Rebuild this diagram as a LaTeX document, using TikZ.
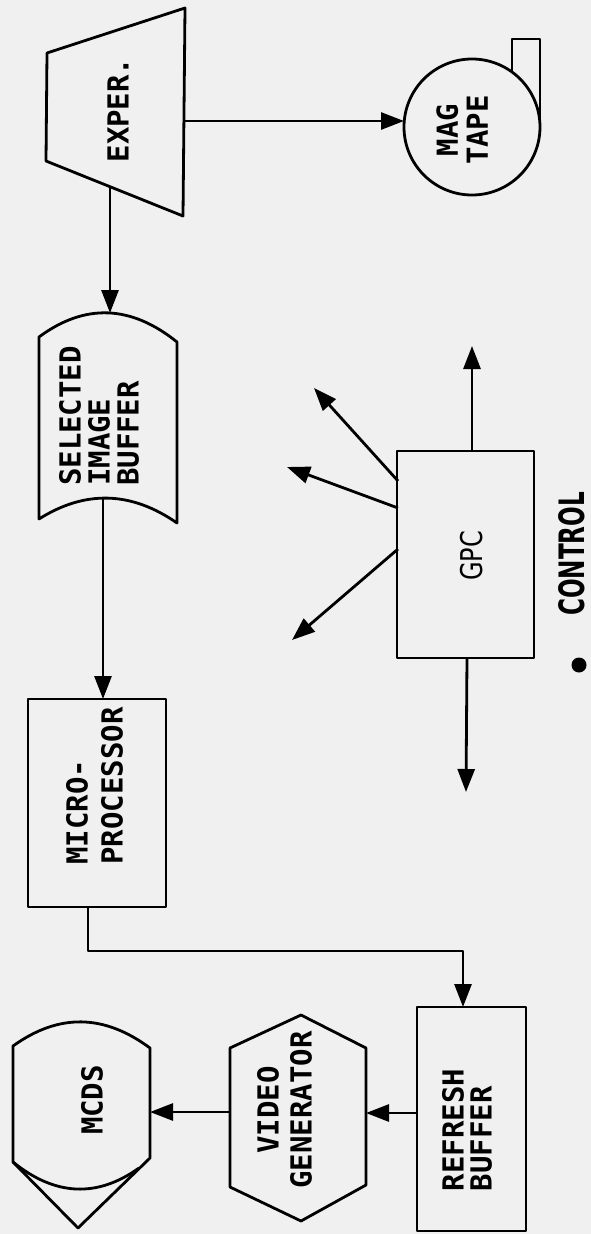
\documentclass[tikz,border=0pt]{standalone}
\usepackage{fontspec}
\setmonofont{DejaVu Sans Mono}
\newfontfamily\gpcfont[FakeStretch=0.8]{DejaVu Sans}
\newfontfamily\ctlfont[FakeStretch=0.66]{DejaVu Sans}
\usetikzlibrary{arrows.meta}
\begin{document}
\begin{tikzpicture}[x=1pt,y=-1pt,line width=2.8pt,line join=round,
  conn/.style={-{Triangle[length=23pt,width=17pt]}},
  lbl/.style={rotate=90,inner sep=0pt,font=\ttfamily\bfseries\fontsize{29}{#1}\selectfont},
  shp/.style={draw=black,line width=2.8pt}]
\useasboundingbox (0,0) rectangle (591,1234);
\fill[black!6] (0,0) rectangle (591,1234);

% EXPER.
\draw[shp] (47,53) -- (185,8) -- (183,216) -- (46,161) -- cycle;
\node[lbl=30] (exper) at (118,110) {EXPER.};
\coordinate (e1) at (184,121);
\coordinate (e2) at (110,187);

% MAG TAPE
\draw[shp] (472,127) circle[radius=68];
\draw[shp] (540,127) -- (540,39) -- (512,39) -- (512,72);
\node[lbl=30,align=center] (mag) at (462,130) {MAG\\TAPE};
\coordinate (m1) at (404,121);

% SELECTED IMAGE BUFFER
\draw[shp] (39,337) .. controls (85,303) and (131,305) .. (177,342)
  -- (177,523) .. controls (131,491) and (85,490) .. (39,519) -- cycle;
\node[lbl=29,align=left] (sib) at (99,416) {SELECTED\\IMAGE\\BUFFER};
\coordinate (s1) at (110,313);
\coordinate (s2) at (103,499);

% MICRO-PROCESSOR
\draw[shp] (28,699) rectangle (166,907);
\node[lbl=35,align=left] (micro) at (94.5,786) {MICRO-\\PROCESSOR};
\coordinate (p1) at (103,699);
\coordinate (p2) at (88,907);
\coordinate (b1) at (88,951);
\coordinate (b2) at (463,951);

% REFRESH BUFFER
\draw[shp] (417,1007) rectangle (526,1231);
\node[lbl=28,align=left] (refresh) at (467,1130) {REFRESH\\BUFFER};
\coordinate (r1) at (463,1007);
\coordinate (r2) at (417,1113);

% VIDEO GENERATOR
\draw[shp] (230,1048) -- (301,1015) -- (366,1048) -- (366,1185) -- (301,1221) -- (230,1187) -- cycle;
\node[lbl=33,align=center] (video) at (284.5,1110) {VIDEO\\GENERATOR};
\coordinate (v1) at (366,1113);
\coordinate (v2) at (230,1112);

% MCDS
\draw[shp] (13,1046) .. controls (59,1013) and (104,1014) .. (150,1048)
  -- (150,1158) -- (78,1228) -- (13,1162) -- cycle;
\draw[shp] (13,1162) .. controls (55,1196) and (97,1198) .. (139,1168);
\node[lbl=30] (mcds) at (92,1100) {MCDS};
\coordinate (d1) at (150,1112);

% GPC
\draw[shp] (397,451) rectangle (534,658);
\node[rotate=90,inner sep=0pt,font=\gpcfont\fontsize{30}{32}\selectfont] (gpc) at (472,556) {GPC};
\coordinate (g0) at (472,451);
\coordinate (gt) at (472,346);
\coordinate (g1) at (398,481);
\coordinate (gu) at (314,388);
\coordinate (g2) at (398,508);
\coordinate (gm) at (287,467);
\coordinate (g3) at (398,549);
\coordinate (gl) at (292,640);
\coordinate (g4) at (467,658);
\coordinate (gb) at (466,792);

% CONTROL
\node[rotate=90,inner sep=0pt,font=\ctlfont\bfseries\fontsize{35}{37}\selectfont] (control) at (572,554) {CONTROL};
\fill (579,665) circle[radius=7.5];

% connectors
\draw[conn] (e1) -- (m1);
\draw[conn] (e2) -- (s1);
\draw[conn] (s2) -- (p1);
\draw[conn] (p2) -- (b1) -- (b2) -- (r1);
\draw[conn] (r2) -- (v1);
\draw[conn] (v2) -- (d1);
\draw[conn] (g0) -- (gt);
\draw[conn] (g1) -- (gu);
\draw[conn] (g2) -- (gm);
\draw[conn] (g3) -- (gl);
\draw[conn] (g4) -- (gb);
\end{tikzpicture}
\end{document}
